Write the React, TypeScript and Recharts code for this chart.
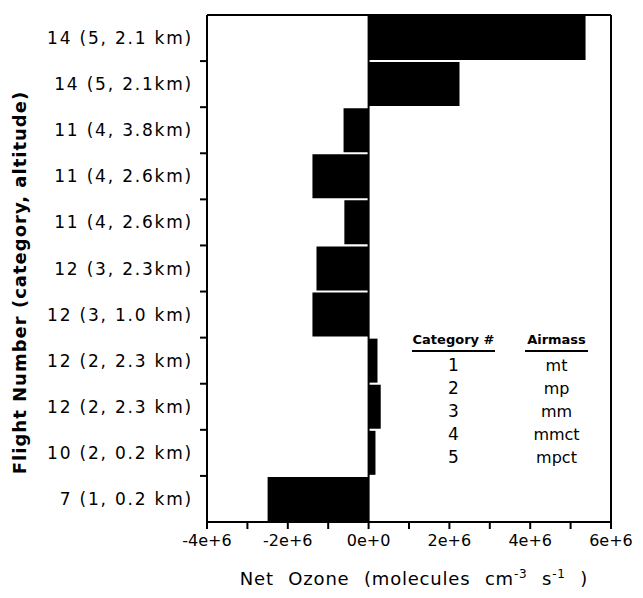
import { BarChart, Bar, XAxis, YAxis, ReferenceLine } from "recharts";

const flights = [
  "14 (5, 2.1 km)",
  "14 (5, 2.1km)",
  "11 (4, 3.8km)",
  "11 (4, 2.6km)",
  "11 (4, 2.6km)",
  "12 (3, 2.3km)",
  "12 (3, 1.0 km)",
  "12 (2, 2.3 km)",
  "12 (2, 2.3 km)",
  "10 (2, 0.2 km)",
  "7 (1, 0.2 km)",
];
const netOzone = [5.37e6, 2.25e6, -0.62e6, -1.39e6, -0.6e6, -1.29e6, -1.39e6, 0.22e6, 0.3e6, 0.17e6, -2.5e6];
const xTicks = [-4e6, -3e6, -2e6, -1e6, 0, 1e6, 2e6, 3e6, 4e6, 5e6, 6e6];
const categoryNumbers = ["1", "2", "3", "4", "5"];
const airmasses = ["mt", "mp", "mm", "mmct", "mpct"];

const font = "'DejaVu Sans', sans-serif";
const TICK_SIZE = 6;
const TICK_MARGIN = 8;

const data = flights.map((flight, i) => ({ flight, ozone: netOzone[i] }));

// label plus a tick mark on the boundary below each band
function FlightTick(props: any) {
  const { x, y, payload, index, visibleTicksCount } = props;
  const count = visibleTicksCount || flights.length;
  const band = (Number(props.height) || 507) / count;
  const axisX = x + TICK_SIZE + TICK_MARGIN;
  return (
    <g>
      <text
        x={x}
        y={y}
        textAnchor="end"
        dominantBaseline="central"
        fontSize={17}
        fontFamily={font}
        letterSpacing={1.8}
        fill="#000"
      >
        {payload.value}
      </text>
      {index < count - 1 && (
        <line x1={axisX - 7} x2={axisX} y1={y + band / 2} y2={y + band / 2} stroke="#000" strokeWidth={2} />
      )}
    </g>
  );
}

function XTitle(props: any) {
  const vb = props.viewBox || { x: 199, y: 514, width: 404 };
  return (
    <text
      x={vb.x + vb.width / 2 + 5}
      y={vb.y + 63}
      textAnchor="middle"
      fontSize={18}
      fontFamily={font}
      fill="#000"
      wordSpacing={8}
      letterSpacing={0.8}
    >
      Net Ozone (molecules cm
      <tspan dy={-7} fontSize={12}>-3</tspan>
      <tspan dy={7}> s</tspan>
      <tspan dy={-7} fontSize={12}>-1</tspan>
      <tspan dy={7}> )</tspan>
    </text>
  );
}

function YTitle(props: any) {
  const vb = props.viewBox || { y: 6, height: 508 };
  const cx = 11;
  const cy = vb.y + vb.height / 2 + 14;
  return (
    <text
      x={cx}
      y={cy}
      transform={`rotate(-90, ${cx}, ${cy})`}
      textAnchor="middle"
      dominantBaseline="central"
      fontSize={18}
      fontWeight="bold"
      fontFamily={font}
      letterSpacing={1}
      fill="#000"
    >
      Flight Number (category, altitude)
    </text>
  );
}

export default function App() {
  return (
    <div style={{ position: "relative", width: 635, height: 590, fontFamily: font }}>
      <BarChart
        width={635}
        height={590}
        data={data}
        layout="vertical"
        margin={{ top: 6, right: 31, left: 0, bottom: 36 }}
        barCategoryGap={1}
      >
        <YAxis
          yAxisId="cat"
          type="category"
          dataKey="flight"
          width={199}
          axisLine={{ stroke: "#000", strokeWidth: 2 }}
          tickLine={false}
          tickSize={TICK_SIZE}
          tickMargin={TICK_MARGIN}
          tick={<FlightTick />}
          interval={0}
          label={<YTitle />}
        />
        <YAxis
          yAxisId="r"
          orientation="right"
          type="number"
          domain={[0, 11]}
          width={1}
          tick={false}
          tickLine={false}
          axisLine={{ stroke: "#000", strokeWidth: 2 }}
        />
        <XAxis
          type="number"
          domain={[-4e6, 6e6]}
          ticks={xTicks}
          interval={0}
          height={40}
          tickSize={7}
          tickMargin={6}
          tickFormatter={(v: number) => (v % 2e6 === 0 ? v.toExponential(0) : "")}
          tick={{ fill: "#000", fontSize: 16, fontFamily: font }}
          axisLine={{ stroke: "#000", strokeWidth: 2 }}
          tickLine={{ stroke: "#000", strokeWidth: 2 }}
          label={<XTitle />}
        />
        <XAxis
          xAxisId="top"
          orientation="top"
          type="number"
          domain={[-4e6, 6e6]}
          height={1}
          tick={false}
          tickLine={false}
          axisLine={{ stroke: "#000", strokeWidth: 2 }}
        />
        <Bar dataKey="ozone" yAxisId="cat" fill="#000" isAnimationActive={false} />
        <ReferenceLine x={0} yAxisId="cat" stroke="#000" strokeWidth={2} />
      </BarChart>
      <div
        style={{
          position: "absolute",
          left: 404,
          top: 322,
          display: "flex",
          color: "#000",
          whiteSpace: "nowrap",
        }}
      >
        <div style={{ width: 83, textAlign: "center" }}>
          <div style={{ lineHeight: "20px", borderBottom: "2px solid #000", fontSize: 13, fontWeight: "bold" }}>Category #</div>
          <div style={{ marginTop: 2 }}>
            {categoryNumbers.map((c) => (
              <div key={c} style={{ lineHeight: "23px", fontSize: 17 }}>{c}</div>
            ))}
          </div>
        </div>
        <div style={{ width: 63, marginLeft: 30, textAlign: "center" }}>
          <div style={{ lineHeight: "20px", borderBottom: "2px solid #000", fontSize: 13, fontWeight: "bold" }}>Airmass</div>
          <div style={{ marginTop: 2 }}>
            {airmasses.map((a) => (
              <div key={a} style={{ lineHeight: "23px", fontSize: 16 }}>{a}</div>
            ))}
          </div>
        </div>
      </div>
    </div>
  );
}
